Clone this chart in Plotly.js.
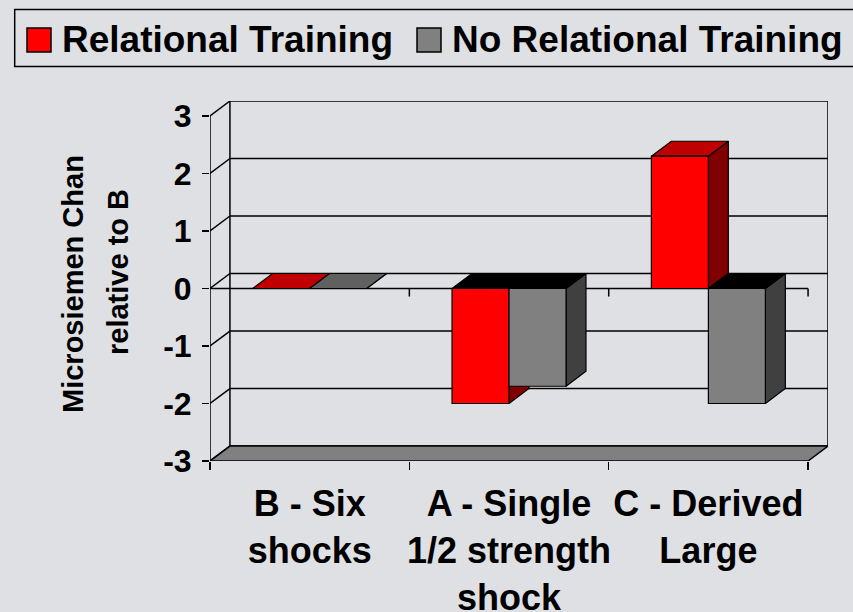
<!DOCTYPE html>
<html>
<head>
<meta charset="utf-8">
<script src="https://cdn.plot.ly/plotly-3.0.1.min.js"></script>
<style>html,body{margin:0;padding:0;background:#dfe0e4;}#chart{width:853px;height:612px;}</style>
</head>
<body>
<div id="chart"></div>
<script>
// ---- data ----
const categories = ['B - Six<br>shocks', 'A - Single<br>1/2 strength<br>shock', 'C - Derived<br>Large'];
const relationalTraining = [0, -2.0, 2.3];
const noRelationalTraining = [0, -1.7, -2.0];
const seriesNames = ['Relational Training', 'No Relational Training'];
const yTicks = [-3, -2, -1, 0, 1, 2, 3];
const yTitleLines = ['Microsiemen Chan', 'relative to B'];

// ---- styles ----
const FONT = 'Liberation Sans, Arial, Helvetica, sans-serif';
const BAR_W = 0.286, DX = 0.1, DY = 0.26;
const W = 853, H = 612, ML = 210, MR = 25, MT = 101, MB = 151;
const PW = W - ML - MR, PH = H - MT - MB;
const XR = [-0.5, 2.6], YR = [-3, 3.26];
const colors = [
  {front: '#ff0000', side: '#800000', topPos: '#c00000', topNeg: '#000000'},
  {front: '#808080', side: '#404040', topPos: '#606060', topNeg: '#000000'}
];
const series = [relationalTraining, noRelationalTraining];
const px = x => (x - ML) / PW;           // pixel -> paper x
const py = y => (H - MB - y) / PH;       // pixel -> paper y
const LW = 1.5;

function face(xs, ys, color) {
  return {type: 'scatter', x: xs.concat([xs[0]]), y: ys.concat([ys[0]]), mode: 'lines',
    fill: 'toself', fillcolor: color, line: {color: '#000', width: 1.2},
    hoverinfo: 'skip', showlegend: false};
}

const traces = [];
categories.forEach((c, i) => {
  series.forEach((vals, s) => {
    const v = vals[i];
    const x0 = i - BAR_W + s * BAR_W, x1 = x0 + BAR_W;
    const yt = Math.max(v, 0);
    traces.push(face([x1, x1, x1 + DX, x1 + DX], [0, v, v + DY, DY], colors[s].side));
    traces.push(face([x0, x1, x1 + DX, x0 + DX], [yt, yt, yt + DY, yt + DY], v >= 0 ? colors[s].topPos : colors[s].topNeg));
    traces.push(face([x0, x1, x1, x0], [0, 0, v, v], colors[s].front));
  });
});

const yMin = yTicks[0], yMax = yTicks[yTicks.length - 1];
const xL = -0.5, xRt = categories.length - 0.5;
const shapes = [];
const ln = (x0, y0, x1, y1, extra) => Object.assign({type: 'line', xref: 'x', yref: 'y', x0, y0, x1, y1,
  line: {color: '#000', width: LW}, layer: 'below'}, extra || {});
// back wall gridlines and left wall diagonals
yTicks.forEach(v => {
  shapes.push(ln(xL + DX, v + DY, xRt + DX, v + DY));
  shapes.push(ln(xL, v, xL + DX, v + DY));
});
// back wall edges
shapes.push(ln(xL + DX, yMin + DY, xL + DX, yMax + DY));
shapes.push(ln(xRt + DX, yMin + DY, xRt + DX, yMax + DY));
// floor
shapes.push({type: 'path', xref: 'x', yref: 'y', layer: 'below',
  path: `M ${xL},${yMin} L ${xRt},${yMin} L ${xRt + DX},${yMin + DY} L ${xL + DX},${yMin + DY} Z`,
  fillcolor: '#808080', line: {color: '#000', width: LW}});
// front vertical axis
shapes.push(ln(xL, yMin, xL, yMax));
// front zero (category) line with ticks
shapes.push(ln(xL, 0, xRt, 0));
for (let k = 1; k <= categories.length; k++) {
  shapes.push(ln(xL + k, 0, xL + k, -0.14));
}
// legend box
shapes.push({type: 'rect', xref: 'paper', yref: 'paper', x0: px(14.7), x1: px(870), y0: py(66.5), y1: py(9.5),
  line: {color: '#000', width: LW}, fillcolor: 'rgba(0,0,0,0)'});
const legendSq = [[27, 51], [417, 441]];
legendSq.forEach((p, s) => shapes.push({type: 'rect', xref: 'paper', yref: 'paper', x0: px(p[0]), x1: px(p[1]),
  y0: py(52), y1: py(28), line: {color: '#000', width: 1.5}, fillcolor: colors[s].front}));

const annotations = [
  {text: seriesNames[0], x: px(60), y: py(40), xanchor: 'left', yanchor: 'middle'},
  {text: seriesNames[1], x: px(450), y: py(40), xanchor: 'left', yanchor: 'middle'}
].map(a => Object.assign(a, {xref: 'paper', yref: 'paper', showarrow: false,
  font: {family: FONT, size: 37, color: '#000', weight: 700}}));
annotations.push({text: yTitleLines[0], x: px(73), y: py(284), textangle: -90});
annotations.push({text: yTitleLines[1], x: px(118), y: py(272), textangle: -90});
annotations.slice(2).forEach(a => Object.assign(a, {xref: 'paper', yref: 'paper', showarrow: false,
  xanchor: 'center', yanchor: 'middle', font: {family: FONT, size: 29, color: '#000', weight: 700}}));

const layout = {
  width: W, height: H,
  margin: {l: ML, r: MR, t: MT, b: MB, pad: 0},
  paper_bgcolor: '#dfe0e4', plot_bgcolor: 'rgba(0,0,0,0)',
  showlegend: false,
  font: {family: FONT, color: '#000'},
  xaxis: {range: XR, tickmode: 'array', tickvals: categories.map((c, i) => i), ticktext: categories,
    ticks: '', showgrid: false, zeroline: false, showline: false, ticklabelstandoff: 18,
    tickfont: {family: FONT, size: 36, color: '#000', weight: 700},
    minor: {tickmode: 'array', tickvals: [-0.5, 0.5, 1.5, 2.5], ticks: 'outside', ticklen: 8,
      tickwidth: LW, tickcolor: '#000', showgrid: false}},
  yaxis: {range: YR, tickmode: 'array', tickvals: yTicks, ticktext: yTicks.map(String),
    ticks: 'outside', ticklen: 7, tickwidth: LW, tickcolor: '#000', ticklabelstandoff: 4,
    showgrid: false, zeroline: false, showline: false,
    tickfont: {family: FONT, size: 32, color: '#000', weight: 700}},
  shapes, annotations
};
Plotly.newPlot('chart', traces, layout, {displayModeBar: false, staticPlot: true});
</script>
</body>
</html>
